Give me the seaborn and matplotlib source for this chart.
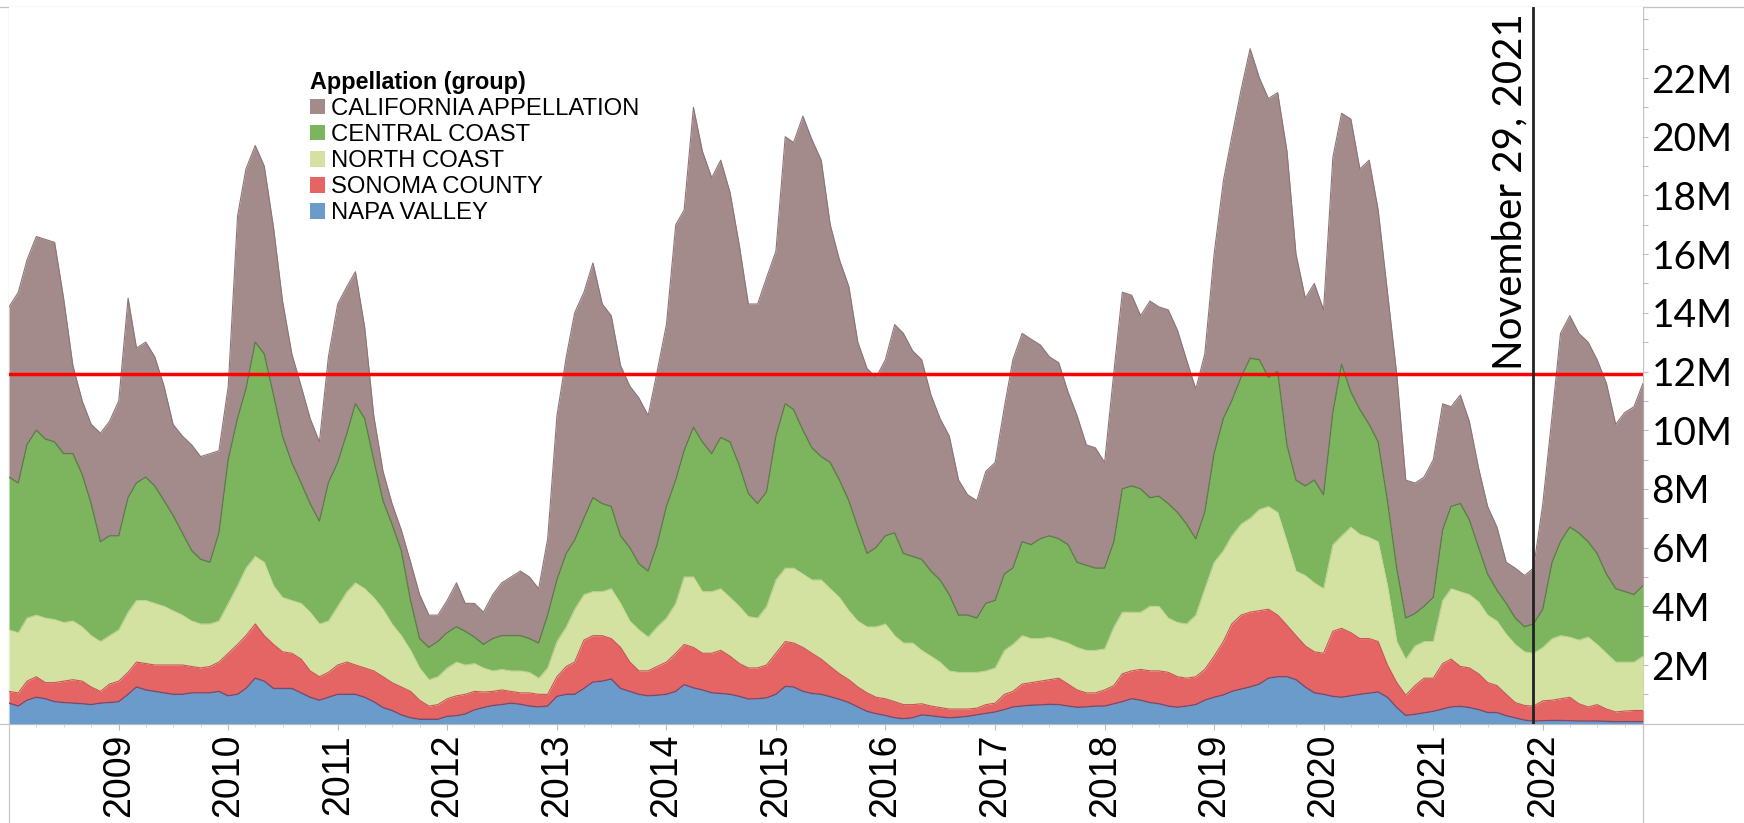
import numpy as np
import pandas as pd
import matplotlib
matplotlib.use("Agg")
import matplotlib.pyplot as plt
import matplotlib.dates as mdates
import matplotlib.transforms as mtransforms
from matplotlib.lines import Line2D
from matplotlib.patches import Patch
from matplotlib.ticker import FixedLocator, FixedFormatter
import seaborn as sns

# ---------------- data (millions, monthly) ----------------
months = pd.date_range("2008-01-01", periods=180, freq="MS")

# stacked levels (top edge of each band), bottom band first
napa_valley_top = [
    0.7, 0.6, 0.8, 0.9, 0.85, 0.75, 0.72, 0.7, 0.68, 0.65, 0.7, 0.72, 0.75,
    1.0, 1.25, 1.15, 1.1, 1.05, 1.0, 1.0, 1.05, 1.05, 1.05, 1.1, 0.95,
    1.0, 1.2, 1.55, 1.45, 1.2, 1.2, 1.2, 1.05, 0.9, 0.8, 0.9, 1.0,
    1.0, 1.0, 0.9, 0.75, 0.55, 0.45, 0.3, 0.2, 0.15, 0.15, 0.15, 0.25,
    0.27, 0.33, 0.47, 0.55, 0.62, 0.65, 0.7, 0.66, 0.6, 0.57, 0.6, 0.93,
    1.0, 1.0, 1.2, 1.42, 1.45, 1.52, 1.2, 1.1, 1.0, 0.95, 0.97, 1.0,
    1.1, 1.33, 1.22, 1.15, 1.05, 1.03, 1.0, 0.93, 0.84, 0.85, 0.88, 1.0,
    1.27, 1.25, 1.1, 1.03, 1.0, 0.92, 0.83, 0.72, 0.57, 0.42, 0.34, 0.28,
    0.2, 0.17, 0.2, 0.3, 0.27, 0.23, 0.2, 0.22, 0.25, 0.3, 0.35, 0.4,
    0.48, 0.57, 0.6, 0.63, 0.64, 0.66, 0.65, 0.6, 0.56, 0.57, 0.6, 0.6,
    0.68, 0.75, 0.85, 0.8, 0.72, 0.68, 0.6, 0.56, 0.6, 0.65, 0.8, 0.9,
    0.98, 1.1, 1.18, 1.25, 1.35, 1.55, 1.6, 1.6, 1.5, 1.25, 1.05, 1.0,
    0.93, 0.9, 0.95, 1.0, 1.04, 1.08, 0.9, 0.55, 0.28, 0.32, 0.37, 0.42,
    0.5, 0.57, 0.59, 0.55, 0.48, 0.38, 0.38, 0.27, 0.2, 0.12, 0.09, 0.1,
    0.11, 0.11, 0.1, 0.09, 0.09, 0.09, 0.08, 0.07, 0.07, 0.07, 0.07,
]
sonoma_county_top = [
    1.1, 1.05, 1.45, 1.6, 1.4, 1.4, 1.45, 1.5, 1.45, 1.25, 1.1, 1.35, 1.45,
    1.75, 2.1, 2.05, 2.0, 2.0, 2.0, 2.0, 1.95, 1.9, 1.95, 2.1, 2.4,
    2.7, 3.0, 3.4, 3.0, 2.7, 2.45, 2.4, 2.2, 1.8, 1.6, 1.75, 2.0,
    2.1, 2.0, 1.9, 1.8, 1.6, 1.4, 1.25, 1.1, 0.8, 0.6, 0.65, 0.85,
    0.95, 1.0, 1.1, 1.08, 1.1, 1.15, 1.1, 1.05, 1.05, 1.0, 1.0, 1.6,
    1.95, 2.1, 2.85, 3.0, 3.0, 2.9, 2.6, 2.1, 1.8, 1.8, 1.95, 2.1,
    2.4, 2.7, 2.6, 2.4, 2.4, 2.5, 2.3, 2.05, 1.9, 1.9, 2.0, 2.4,
    2.8, 2.75, 2.6, 2.4, 2.2, 1.95, 1.7, 1.5, 1.25, 1.05, 0.9, 0.85,
    0.75, 0.65, 0.65, 0.68, 0.6, 0.55, 0.5, 0.5, 0.5, 0.53, 0.65, 0.7,
    1.0, 1.1, 1.35, 1.4, 1.45, 1.5, 1.55, 1.35, 1.15, 1.05, 1.05, 1.15,
    1.3, 1.7, 1.8, 1.85, 1.8, 1.8, 1.75, 1.6, 1.55, 1.6, 1.85, 2.3,
    2.8, 3.4, 3.7, 3.8, 3.85, 3.9, 3.7, 3.35, 3.0, 2.65, 2.45, 2.4,
    3.15, 3.25, 3.1, 2.9, 2.9, 2.8, 2.0, 1.4, 0.97, 1.3, 1.55, 1.55,
    2.05, 2.2, 1.95, 1.9, 1.7, 1.4, 1.3, 1.0, 0.72, 0.62, 0.6, 0.78,
    0.8, 0.85, 0.9, 0.68, 0.57, 0.65, 0.5, 0.4, 0.43, 0.45, 0.45,
]
north_coast_top = [
    3.2, 3.1, 3.6, 3.7, 3.6, 3.55, 3.45, 3.5, 3.3, 3.0, 2.8, 3.0, 3.2,
    3.8, 4.2, 4.2, 4.1, 4.0, 3.85, 3.7, 3.5, 3.4, 3.4, 3.5, 4.1,
    4.7, 5.3, 5.7, 5.5, 4.7, 4.3, 4.2, 4.1, 3.8, 3.4, 3.5, 4.0,
    4.5, 4.8, 4.6, 4.3, 3.9, 3.4, 3.0, 2.5, 1.9, 1.5, 1.6, 1.9,
    2.1, 2.0, 2.05, 1.9, 1.8, 1.85, 1.8, 1.8, 1.75, 1.55, 1.9, 2.8,
    3.3, 3.9, 4.4, 4.5, 4.5, 4.6, 4.1, 3.5, 3.2, 2.95, 3.3, 3.6,
    4.1, 5.0, 5.0, 4.5, 4.5, 4.6, 4.3, 4.0, 3.65, 3.6, 4.0, 4.9,
    5.3, 5.3, 5.1, 4.9, 4.9, 4.6, 4.3, 3.85, 3.5, 3.3, 3.3, 3.4,
    3.0, 2.75, 2.75, 2.5, 2.3, 2.1, 1.8, 1.75, 1.75, 1.75, 1.8, 1.9,
    2.5, 2.7, 3.0, 2.9, 2.9, 2.95, 2.85, 2.75, 2.6, 2.5, 2.5, 2.55,
    3.3, 3.8, 3.8, 3.8, 4.0, 4.0, 3.6, 3.45, 3.4, 3.7, 4.6, 5.5,
    5.9, 6.4, 6.8, 7.0, 7.3, 7.4, 7.2, 6.2, 5.2, 5.05, 4.8, 4.6,
    6.1, 6.4, 6.7, 6.45, 6.35, 6.2, 4.7, 2.8, 2.2, 2.65, 2.8, 2.8,
    4.2, 4.6, 4.5, 4.4, 4.15, 3.7, 3.5, 3.05, 2.7, 2.45, 2.4, 2.6,
    2.9, 3.0, 2.95, 2.85, 2.95, 2.7, 2.4, 2.1, 2.1, 2.1, 2.3,
]
central_coast_top = [
    8.4, 8.2, 9.5, 10.0, 9.7, 9.6, 9.2, 9.2, 8.5, 7.5, 6.2, 6.4, 6.4,
    7.7, 8.2, 8.4, 8.1, 7.6, 7.1, 6.5, 5.9, 5.6, 5.5, 6.5, 9.0,
    10.4, 11.4, 13.0, 12.6, 11.2, 9.8, 8.9, 8.2, 7.5, 6.9, 8.2, 8.9,
    9.9, 10.9, 10.4, 9.0, 7.6, 6.8, 5.9, 4.2, 2.9, 2.6, 2.8, 3.1,
    3.3, 3.15, 2.95, 2.7, 2.9, 3.0, 3.0, 3.0, 2.9, 2.75, 3.7, 4.9,
    5.8, 6.25, 7.0, 7.7, 7.5, 7.4, 6.4, 6.0, 5.45, 5.2, 6.1, 7.4,
    8.3, 9.3, 10.1, 9.6, 9.2, 9.75, 9.6, 8.8, 7.85, 7.5, 7.9, 9.8,
    10.9, 10.7, 10.0, 9.4, 9.1, 8.9, 8.3, 7.6, 6.7, 5.8, 6.0, 6.4,
    6.5, 5.8, 5.7, 5.6, 5.2, 4.9, 4.4, 3.7, 3.7, 3.6, 4.1, 4.2,
    5.1, 5.3, 6.2, 6.1, 6.3, 6.4, 6.3, 6.1, 5.5, 5.4, 5.3, 5.3,
    6.2, 8.0, 8.1, 8.0, 7.7, 7.75, 7.5, 7.2, 6.8, 6.3, 7.2, 9.2,
    10.4, 11.0, 11.8, 12.45, 12.4, 11.8, 12.0, 9.5, 8.3, 8.1, 8.3, 7.8,
    10.6, 12.25, 11.3, 10.7, 10.2, 9.6, 7.6, 5.3, 3.6, 3.75, 4.0, 4.3,
    6.6, 7.4, 7.5, 6.95, 6.0, 5.1, 4.55, 4.1, 3.6, 3.3, 3.4, 3.9,
    5.5, 6.2, 6.7, 6.5, 6.2, 5.8, 5.1, 4.6, 4.5, 4.4, 4.7,
]
california_appellation_top = [
    14.2, 14.7, 15.8, 16.6, 16.5, 16.4, 14.5, 12.2, 11.0, 10.2, 9.9, 10.3, 11.0,
    14.5, 12.8, 13.0, 12.5, 11.5, 10.2, 9.8, 9.5, 9.1, 9.2, 9.3, 11.5,
    17.3, 18.9, 19.7, 19.0, 16.9, 14.4, 12.6, 11.5, 10.4, 9.6, 12.5, 14.3,
    14.9, 15.4, 13.5, 10.5, 8.6, 7.5, 6.6, 5.5, 4.4, 3.7, 3.7, 4.2,
    4.8, 4.1, 4.1, 3.8, 4.4, 4.8, 5.0, 5.2, 5.0, 4.6, 6.3, 10.5,
    12.5, 14.0, 14.7, 15.7, 14.3, 13.9, 12.2, 11.5, 11.1, 10.5, 12.0, 13.6,
    17.0, 17.5, 21.0, 19.5, 18.6, 19.2, 18.1, 16.3, 14.3, 14.3, 15.2, 16.1,
    20.0, 19.8, 20.7, 19.9, 19.2, 17.0, 15.8, 14.9, 13.0, 12.1, 11.8, 12.4,
    13.6, 13.3, 12.7, 12.4, 11.2, 10.4, 9.8, 8.3, 7.8, 7.6, 8.6, 8.9,
    10.8, 12.4, 13.3, 13.1, 12.9, 12.5, 12.3, 11.3, 10.5, 9.5, 9.4, 8.9,
    12.0, 14.7, 14.6, 13.9, 14.4, 14.2, 14.1, 13.4, 12.4, 11.4, 12.6, 16.0,
    18.5, 20.0, 21.6, 23.0, 22.0, 21.3, 21.5, 19.5, 16.0, 14.5, 15.0, 14.1,
    19.3, 20.8, 20.6, 18.9, 19.2, 17.5, 14.7, 11.9, 8.3, 8.2, 8.4, 9.0,
    10.9, 10.8, 11.2, 10.3, 8.7, 7.4, 6.7, 5.5, 5.3, 5.05, 5.3, 7.5,
    10.5, 13.3, 13.9, 13.3, 13.0, 12.4, 11.6, 10.2, 10.6, 10.8, 11.6,
]

groups = ["NAPA VALLEY", "SONOMA COUNTY", "NORTH COAST", "CENTRAL COAST",
          "CALIFORNIA APPELLATION"]
fill_colors = ["#6A9BCB", "#E56565", "#D4E2A1", "#7DB55F", "#A38A8B"]
edge_colors = ["#6E4F73", "#C85555", "#C9D896", "#5D7D48", "#8E7476"]
edge_widths = [1.0, 0.8, 0.6, 1.0, 0.8]

reference_level = 11.9
event_date = "2021-11-29"
event_label = "November 29, 2021"
year_labels = [str(y) for y in range(2009, 2023)]
y_tick_values = list(range(2, 23, 2))
y_minor_values = [v for v in range(1, 25) if v % 2 == 1] + [24]
legend_title = "Appellation (group)"

# ---------------- layout ----------------
W, H = 1744, 823
PX_PER_M = 29.35
L, R, T, B = 9, 1643, 7, 723.7

sns.set_theme(style="white")
plt.rcParams["font.family"] = ["Liberation Sans", "DejaVu Sans"]
plt.rcParams["text.color"] = "black"

fig = plt.figure(figsize=(W / 100, H / 100), dpi=100)
fig.patch.set_facecolor("white")
ax = fig.add_axes([L / W, 1 - B / H, (R - L) / W, (B - T) / H])
ax.set_facecolor("white")

tops = [napa_valley_top, sonoma_county_top, north_coast_top,
        central_coast_top, california_appellation_top]
levels = [np.zeros(len(months))] + [np.asarray(t, dtype=float) for t in tops]

for i in range(len(groups)):
    ax.fill_between(months, levels[i], levels[i + 1], color=fill_colors[i],
                    lw=0, zorder=1)
for i in range(len(groups)):
    sns.lineplot(x=months, y=levels[i + 1], color=edge_colors[i],
                 lw=edge_widths[i], estimator=None, ax=ax, zorder=2,
                 legend=False)

ax.set_xlim(months[0], months[-1])
ax.set_ylim(0, (B - T) / PX_PER_M)
for s in ax.spines.values():
    s.set_visible(False)
ax.grid(False)
ax.set_xlabel("")
ax.set_ylabel("")

# y axis on the right
ax.yaxis.tick_right()
ax.yaxis.set_major_locator(FixedLocator(y_tick_values))
ax.yaxis.set_major_formatter(FixedFormatter([f"{v}M" for v in y_tick_values]))
ax.yaxis.set_minor_locator(FixedLocator(y_minor_values))
ax.tick_params(axis="y", which="both", right=True, left=False, length=3.6,
               width=0.8, color="#BDBDBD", pad=2.5, labelsize=28,
               labelcolor="black")
for lbl in ax.get_yticklabels():
    lbl.set_fontfamily(["Lato", "DejaVu Sans"])

# x axis: years
year_pos = [mdates.date2num(pd.Timestamp(f"{y}-01-01")) for y in year_labels]
ax.xaxis.set_major_locator(FixedLocator(year_pos))
ax.xaxis.set_major_formatter(FixedFormatter(year_labels))
ax.xaxis.set_minor_locator(mdates.MonthLocator(bymonth=[1, 4, 7, 10]))
ax.tick_params(axis="x", which="major", bottom=True, length=4.3, width=0.8,
               color="#BDBDBD", pad=3, labelsize=27, labelrotation=90,
               labelcolor="black")
ax.tick_params(axis="x", which="minor", bottom=True, length=2.2, width=0.6,
               color="#D0D0D0")

# reference lines
ax.axhline(reference_level, color="#FF0000", lw=2.5, zorder=4)
ev = pd.Timestamp(event_date)
ax.axvline(ev, color="#222222", lw=2.0, zorder=4)
trans = mtransforms.offset_copy(
    mtransforms.blended_transform_factory(ax.transData, ax.transAxes),
    fig=fig, x=-11, y=0, units="dots")
ax.text(mdates.date2num(ev), 1 - 6 / (B - T), event_label, transform=trans,
        rotation=90, rotation_mode="anchor", ha="right", va="baseline",
        fontsize=29, color="black", family=["Lato", "DejaVu Sans"], zorder=5)

# legend
order = list(range(len(groups)))[::-1]
handles = [Patch(facecolor=fill_colors[i], edgecolor="none") for i in order]
labels = [groups[i] for i in order]
leg = fig.legend(handles, labels, loc="upper left",
                 bbox_to_anchor=(310 / W, 1 - 71 / H), frameon=False,
                 title=legend_title,
                 title_fontproperties={"weight": "bold", "size": 16.8},
                 fontsize=17.2, handlelength=0.62, handleheight=0.62,
                 handletextpad=0.25, labelspacing=0.17, borderpad=0,
                 borderaxespad=0, alignment="left", labelcolor="black")
leg.get_title().set_color("black")

# pane border lines (Tableau style)
gray = "#C4C4C4"
def fline(x0, y0, x1, y1):
    fig.add_artist(Line2D([x0 / W, x1 / W], [1 - y0 / H, 1 - y1 / H],
                          transform=fig.transFigure, color=gray, lw=0.9,
                          zorder=0))
fline(0, T, W, T)
fline(L, T, L, H)
fline(0, B, W, B)
fline(R, T, R, H)

fig.savefig("out.png", dpi=100, facecolor="white")
